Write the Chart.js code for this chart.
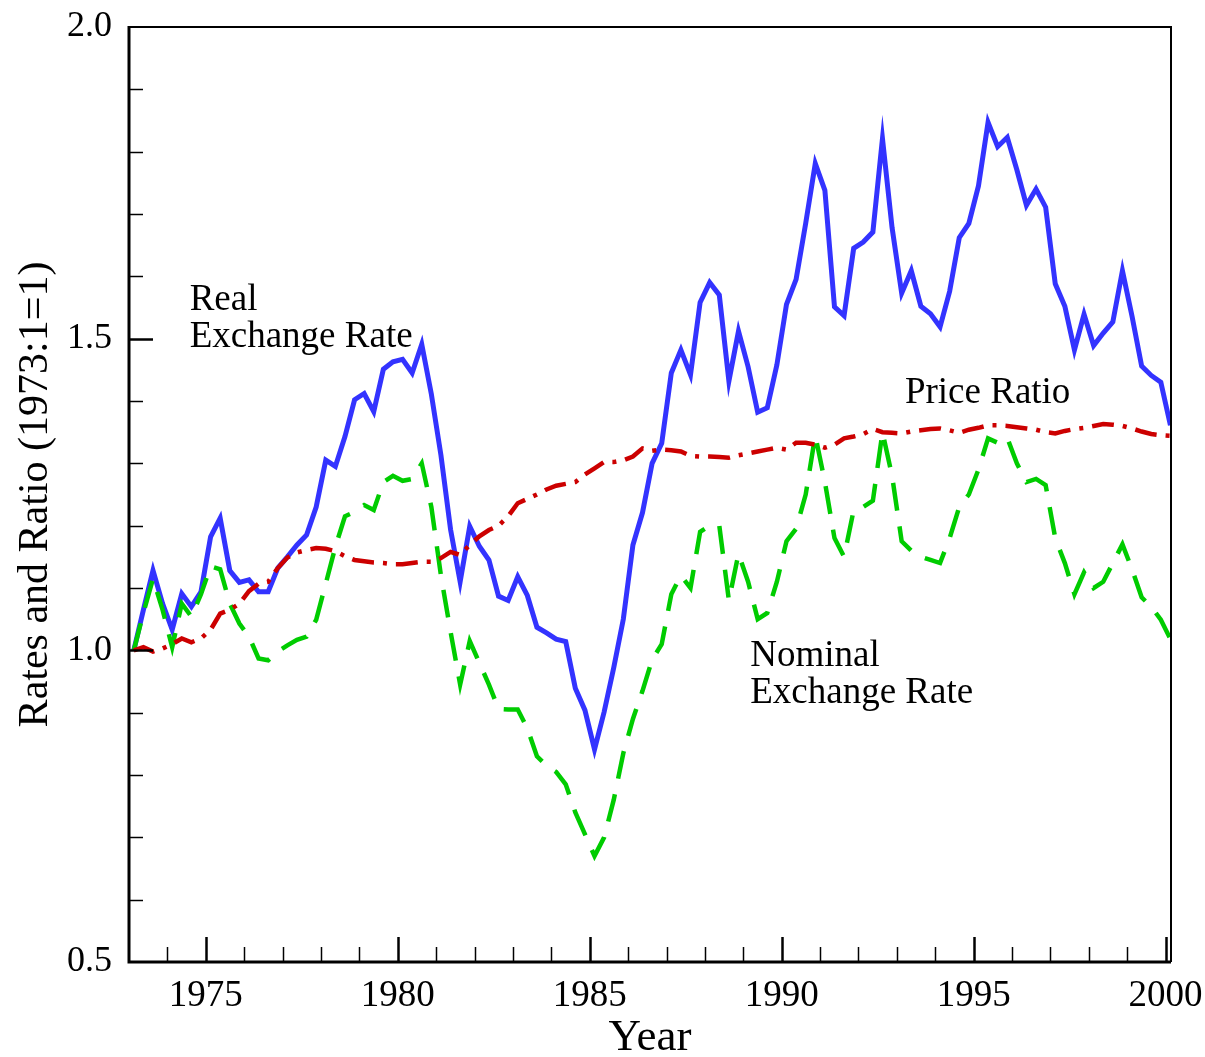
<!DOCTYPE html>
<html>
<head>
  <title>Real and Nominal Exchange Rates</title>
  <meta charset="utf-8">
  <script src="https://cdn.jsdelivr.net/npm/chart.js"></script>
  <style>
    html, body { margin: 0; padding: 0; background: #fff; }
  </style>
</head>
<body>
  <canvas id="myChart" width="1205" height="1057"></canvas>
  <script>
    // quarterly observations, 1973:1 .. 2000:1
    const quarters = [
      '1973:1','1973:2','1973:3','1973:4','1974:1','1974:2','1974:3','1974:4',
      '1975:1','1975:2','1975:3','1975:4','1976:1','1976:2','1976:3','1976:4',
      '1977:1','1977:2','1977:3','1977:4','1978:1','1978:2','1978:3','1978:4',
      '1979:1','1979:2','1979:3','1979:4','1980:1','1980:2','1980:3','1980:4',
      '1981:1','1981:2','1981:3','1981:4','1982:1','1982:2','1982:3','1982:4',
      '1983:1','1983:2','1983:3','1983:4','1984:1','1984:2','1984:3','1984:4',
      '1985:1','1985:2','1985:3','1985:4','1986:1','1986:2','1986:3','1986:4',
      '1987:1','1987:2','1987:3','1987:4','1988:1','1988:2','1988:3','1988:4',
      '1989:1','1989:2','1989:3','1989:4','1990:1','1990:2','1990:3','1990:4',
      '1991:1','1991:2','1991:3','1991:4','1992:1','1992:2','1992:3','1992:4',
      '1993:1','1993:2','1993:3','1993:4','1994:1','1994:2','1994:3','1994:4',
      '1995:1','1995:2','1995:3','1995:4','1996:1','1996:2','1996:3','1996:4',
      '1997:1','1997:2','1997:3','1997:4','1998:1','1998:2','1998:3','1998:4',
      '1999:1','1999:2','1999:3','1999:4','2000:1'
    ];

    const realRate = [
      1.000,1.065,1.128,1.075,1.033,1.091,1.070,1.094,1.182,1.212,
      1.128,1.109,1.113,1.094,1.094,1.132,1.150,1.169,1.185,1.230,
      1.305,1.295,1.343,1.402,1.412,1.383,1.451,1.463,1.467,1.445,
      1.491,1.411,1.313,1.194,1.110,1.199,1.167,1.145,1.087,1.080,
      1.118,1.088,1.037,1.028,1.018,1.014,0.939,0.904,0.841,0.901,
      0.972,1.050,1.169,1.221,1.300,1.332,1.445,1.482,1.442,1.558,
      1.590,1.570,1.432,1.512,1.455,1.382,1.389,1.458,1.555,1.595,
      1.685,1.781,1.738,1.551,1.537,1.645,1.655,1.671,1.821,1.678,
      1.573,1.609,1.552,1.540,1.519,1.576,1.662,1.685,1.745,1.847,
      1.808,1.823,1.771,1.714,1.740,1.711,1.588,1.552,1.482,1.539,
      1.489,1.509,1.527,1.609,1.536,1.456,1.441,1.430,1.361
    ];

    const nominalRate = [
      1.000,1.060,1.115,1.065,1.005,1.075,1.054,1.090,1.135,1.130,
      1.075,1.043,1.022,0.987,0.984,0.998,1.008,1.017,1.022,1.049,
      1.107,1.166,1.215,1.222,1.233,1.225,1.270,1.280,1.272,1.275,
      1.300,1.230,1.120,1.030,0.945,1.015,0.980,0.945,0.906,0.905,
      0.905,0.875,0.830,0.815,0.805,0.785,0.740,0.705,0.670,0.700,
      0.760,0.835,0.890,0.935,0.985,1.010,1.090,1.120,1.100,1.190,
      1.200,1.200,1.080,1.155,1.110,1.050,1.060,1.110,1.175,1.195,
      1.250,1.345,1.270,1.180,1.150,1.225,1.230,1.240,1.350,1.280,
      1.175,1.160,1.150,1.145,1.140,1.180,1.230,1.250,1.290,1.340,
      1.333,1.341,1.300,1.270,1.275,1.265,1.180,1.140,1.090,1.125,
      1.100,1.110,1.140,1.170,1.130,1.085,1.070,1.049,1.018
    ];

    const priceRatio = [
      1.000,1.005,0.998,1.003,1.010,1.019,1.013,1.019,1.033,1.059,
      1.065,1.075,1.095,1.107,1.110,1.132,1.149,1.157,1.161,1.164,
      1.163,1.159,1.151,1.145,1.143,1.141,1.140,1.138,1.138,1.140,
      1.142,1.142,1.148,1.158,1.153,1.169,1.183,1.193,1.200,1.215,
      1.236,1.243,1.250,1.258,1.264,1.267,1.270,1.282,1.292,1.302,
      1.302,1.305,1.311,1.324,1.320,1.322,1.321,1.319,1.312,1.311,
      1.311,1.310,1.309,1.313,1.316,1.319,1.322,1.325,1.322,1.333,
      1.333,1.330,1.325,1.330,1.340,1.343,1.347,1.355,1.350,1.349,
      1.348,1.351,1.353,1.355,1.356,1.353,1.349,1.354,1.357,1.361,
      1.361,1.360,1.358,1.356,1.354,1.350,1.348,1.352,1.355,1.357,
      1.360,1.363,1.362,1.360,1.356,1.351,1.347,1.345,1.344
    ];

    const xTickLabels = [1975, 1980, 1985, 1990, 1995, 2000];
    const yTickLabels = [0.5, 1.0, 1.5, 2.0];

    // text labels placed next to the curves (data coordinates)
    const curveNotes = [
      { lines: ['Real', 'Exchange Rate'], x: 1974.58, y: 1.546 },
      { lines: ['Price Ratio'], x: 1993.21, y: 1.396 },
      { lines: ['Nominal', 'Exchange Rate'], x: 1989.18, y: 0.975 }
    ];

    // mid-quarter position on the time axis
    function quarterToX(q) {
      const parts = q.split(':');
      return Number(parts[0]) + (Number(parts[1]) - 0.5) / 4;
    }
    function toPoints(values) {
      return values.map((v, i) => ({ x: quarterToX(quarters[i]), y: v }));
    }

    const SERIF = "'Liberation Serif', 'Times New Roman', serif";

    const frameAndTicks = {
      id: 'frameAndTicks',
      afterDatasetsDraw(chart) {
        const ctx = chart.ctx;
        const a = chart.chartArea;
        const x = chart.scales.x;
        const y = chart.scales.y;
        ctx.save();
        ctx.strokeStyle = '#000';

        // x ticks, inward, every year
        for (let yr = 1974; yr <= 2000; yr++) {
          const major = yr % 5 === 0;
          const px = Math.round(x.getPixelForValue(yr)) + 0.5;
          ctx.lineWidth = major ? 2.5 : 1.5;
          ctx.beginPath();
          ctx.moveTo(px, a.bottom);
          ctx.lineTo(px, a.bottom - (major ? 25 : 15));
          ctx.stroke();
        }
        // y ticks, inward, every 0.1
        for (let i = 6; i < 20; i++) {
          const major = i % 5 === 0;
          const py = Math.round(y.getPixelForValue(i / 10)) + 0.5;
          ctx.lineWidth = major ? 2.5 : 1.5;
          ctx.beginPath();
          ctx.moveTo(a.left, py);
          ctx.lineTo(a.left + (major ? 24 : 14), py);
          ctx.stroke();
        }

        // frame
        ctx.lineWidth = 2;
        ctx.beginPath();
        ctx.moveTo(a.left, a.top);
        ctx.lineTo(a.right, a.top);
        ctx.lineTo(a.right, a.bottom);
        ctx.stroke();
        ctx.lineWidth = 3;
        ctx.beginPath();
        ctx.moveTo(a.right, a.bottom);
        ctx.lineTo(a.left, a.bottom);
        ctx.lineTo(a.left, a.top - 1);
        ctx.stroke();

        // curve labels
        ctx.fillStyle = '#000';
        ctx.font = '37px ' + SERIF;
        ctx.textAlign = 'left';
        ctx.textBaseline = 'alphabetic';
        curveNotes.forEach(n => {
          const px = x.getPixelForValue(n.x);
          const py = y.getPixelForValue(n.y);
          n.lines.forEach((t, j) => ctx.fillText(t, px, py + j * 37));
        });
        ctx.restore();
      }
    };

    const ctx = document.getElementById('myChart');
    const chart = new Chart(ctx, {
      type: 'line',
      data: {
        datasets: [
          {
            label: 'Price Ratio',
            data: toPoints(priceRatio),
            borderColor: 'rgb(204, 0, 0)',
            borderWidth: 4.5,
            borderDash: [22, 9, 4, 9],
            order: 0
          },
          {
            label: 'Nominal Exchange Rate',
            data: toPoints(nominalRate),
            borderColor: 'rgb(0, 204, 0)',
            borderWidth: 4.5,
            borderDash: [28, 16],
            order: 1
          },
          {
            label: 'Real Exchange Rate',
            data: toPoints(realRate),
            borderColor: 'rgb(51, 51, 255)',
            borderWidth: 5,
            order: 2
          }
        ]
      },
      options: {
        responsive: false,
        animation: false,
        layout: { padding: { top: 27, right: 34, left: 0, bottom: 0 } },
        elements: {
          point: { radius: 0 },
          line: { tension: 0, fill: false, borderJoinStyle: 'miter' }
        },
        plugins: {
          legend: { display: false },
          tooltip: { enabled: false }
        },
        scales: {
          x: {
            type: 'linear',
            min: 1973,
            max: 2000.14,
            afterBuildTicks: axis => { axis.ticks = xTickLabels.map(v => ({ value: v })); },
            afterFit: axis => {
              axis.height = 95;
              axis.paddingLeft = 0;
              axis.paddingRight = 0;
            },
            grid: { display: false },
            border: { display: false },
            ticks: {
              autoSkip: false,
              maxRotation: 0,
              padding: 4,
              color: '#000',
              font: { family: SERIF, size: 37 },
              callback: v => String(v)
            },
            title: {
              display: true,
              text: 'Year',
              color: '#000',
              font: { family: SERIF, size: 45, lineHeight: 0.85 },
              padding: { top: 0, bottom: 0 }
            }
          },
          y: {
            min: 0.5,
            max: 2.0,
            afterBuildTicks: axis => { axis.ticks = yTickLabels.map(v => ({ value: v })); },
            afterFit: axis => {
              axis.width = 129;
              axis.paddingTop = 0;
              axis.paddingBottom = 0;
            },
            grid: { display: false },
            border: { display: false },
            ticks: {
              padding: 9,
              color: '#000',
              font: { family: SERIF, size: 36 },
              callback: v => Number(v).toFixed(1)
            },
            title: {
              display: true,
              text: 'Rates and Ratio (1973:1=1)',
              color: '#000',
              font: { family: SERIF, size: 42 },
              padding: { top: 11, bottom: 0 }
            }
          }
        }
      },
      plugins: [frameAndTicks]
    });
  </script>
</body>
</html>
